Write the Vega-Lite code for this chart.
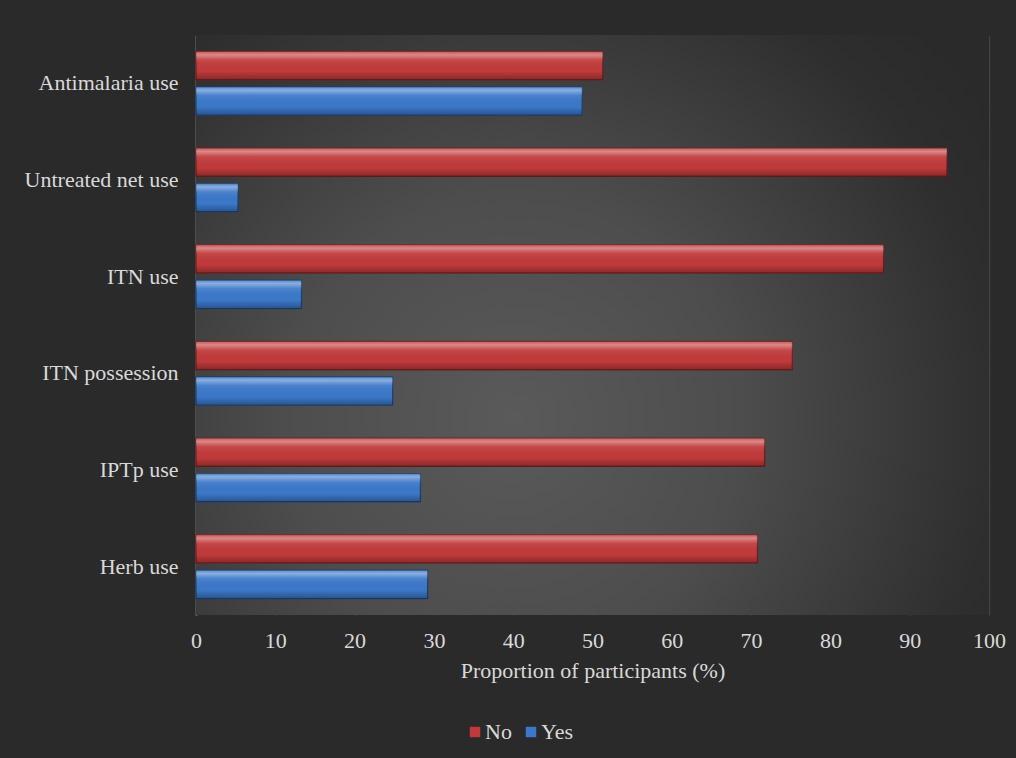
{
  "$schema": "https://vega.github.io/schema/vega-lite/v6.json",
  "autosize": {"type": "none"},
  "width": 793,
  "height": 580,
  "padding": {"left": 196, "top": 35, "right": 27, "bottom": 143},
  "background": "#2a2a2a",
  "config": {"font": "Liberation Serif", "view": {"stroke": null}},
  "data": {
    "values": [
      {"category": "Antimalaria use", "answer": "No", "value": 51.3},
      {"category": "Antimalaria use", "answer": "Yes", "value": 48.7},
      {"category": "Untreated net use", "answer": "No", "value": 94.7},
      {"category": "Untreated net use", "answer": "Yes", "value": 5.3},
      {"category": "ITN use", "answer": "No", "value": 86.7},
      {"category": "ITN use", "answer": "Yes", "value": 13.3},
      {"category": "ITN possession", "answer": "No", "value": 75.2},
      {"category": "ITN possession", "answer": "Yes", "value": 24.8},
      {"category": "IPTp use", "answer": "No", "value": 71.7},
      {"category": "IPTp use", "answer": "Yes", "value": 28.3},
      {"category": "Herb use", "answer": "No", "value": 70.8},
      {"category": "Herb use", "answer": "Yes", "value": 29.2}
    ]
  },
  "encoding": {
    "y": {
      "field": "category",
      "type": "nominal",
      "sort": ["Antimalaria use", "Untreated net use", "ITN use", "ITN possession", "IPTp use", "Herb use"],
      "scale": {"paddingInner": 0.34, "paddingOuter": 0.17},
      "axis": {
        "title": null,
        "domain": true,
        "domainColor": "#a6a6a6",
        "domainWidth": 1.5,
        "ticks": false,
        "grid": false,
        "labelColor": "#d9d9d9",
        "labelFontSize": 22,
        "labelPadding": 18
      }
    },
    "x": {
      "field": "value",
      "type": "quantitative",
      "scale": {"domain": [0, 100], "nice": false},
      "axis": {
        "values": [0, 10, 20, 30, 40, 50, 60, 70, 80, 90, 100],
        "domain": false,
        "ticks": false,
        "grid": true,
        "gridColor": "#ffffff",
        "gridOpacity": 0.12,
        "gridWidth": 1.5,
        "labelFlush": false,
        "labelColor": "#d9d9d9",
        "labelFontSize": 22,
        "labelPadding": 15,
        "title": "Proportion of participants (%)",
        "titleColor": "#d9d9d9",
        "titleFontSize": 22,
        "titleFontWeight": "normal",
        "titlePadding": 9
      }
    },
    "yOffset": {"field": "answer", "type": "nominal", "sort": ["No", "Yes"], "scale": {"paddingInner": 0.2}}
  },
  "layer": [
    {
      "data": {"values": [{"a": 0, "b": 100}]},
      "mark": {
        "type": "rect",
        "color": {
          "gradient": "radial",
          "x1": 0.4, "y1": 0.62, "r1": 0,
          "x2": 0.4, "y2": 0.62, "r2": 0.72,
          "stops": [
            {"offset": 0, "color": "#5a5a5a"},
            {"offset": 0.4, "color": "#4d4d4d"},
            {"offset": 0.85, "color": "#2e2e2e"},
            {"offset": 1, "color": "#2a2a2a"}
          ]
        }
      },
      "encoding": {
        "y": null,
        "yOffset": null,
        "x": {"field": "a", "type": "quantitative"},
        "x2": {"field": "b"}
      }
    },
    {
      "mark": {"type": "bar", "strokeWidth": 1.2},
      "encoding": {
        "color": {
          "field": "answer",
          "type": "nominal",
          "scale": {"domain": ["No", "Yes"], "range": ["#c13a3b", "#3b78c9"]},
          "legend": {
            "orient": "none",
            "legendX": 268,
            "legendY": 686,
            "direction": "horizontal",
            "title": null,
            "symbolType": "square",
            "symbolSize": 110,
            "symbolStrokeWidth": 0,
            "labelFontSize": 22,
            "labelColor": "#d9d9d9",
            "labelOffset": -1,
            "columnPadding": 8,
            "padding": 0
          }
        },
        "stroke": {
          "field": "answer",
          "type": "nominal",
          "scale": {"domain": ["No", "Yes"], "range": ["#6e1f20", "#1d3f6e"]},
          "legend": null
        }
      }
    },
    {
      "mark": {
        "type": "bar",
        "color": {
          "gradient": "linear",
          "x1": 0, "y1": 0, "x2": 0, "y2": 1,
          "stops": [
            {"offset": 0, "color": "rgba(255,255,255,0.15)"},
            {"offset": 0.12, "color": "rgba(255,255,255,0.4)"},
            {"offset": 0.3, "color": "rgba(255,255,255,0.08)"},
            {"offset": 0.7, "color": "rgba(0,0,0,0)"},
            {"offset": 1, "color": "rgba(0,0,0,0.3)"}
          ]
        }
      },
      "encoding": {}
    }
  ]
}
